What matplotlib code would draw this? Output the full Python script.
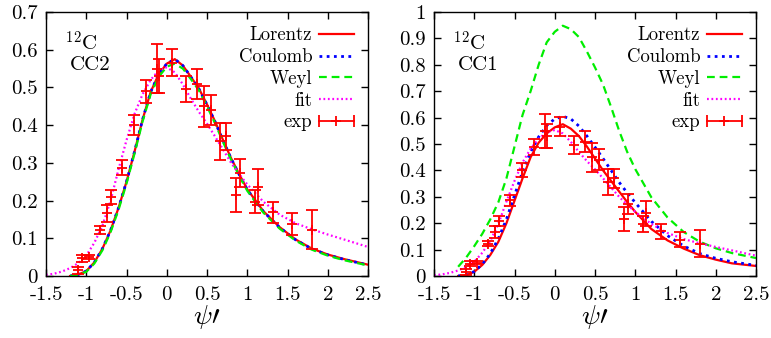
import matplotlib
matplotlib.use("Agg")
import matplotlib.pyplot as plt
from matplotlib.lines import Line2D
from matplotlib.legend_handler import HandlerLine2D, HandlerTuple

plt.rcParams['font.family'] = ['cmr10', 'DejaVu Serif']
plt.rcParams['mathtext.fontset'] = 'cm'
plt.rcParams['axes.unicode_minus'] = False
plt.rcParams['axes.formatter.use_mathtext'] = True

# scaling variable grid for the model curves
psi_model = [-1.2, -1.1, -1.0, -0.9, -0.8, -0.7, -0.6, -0.5, -0.4, -0.3, -0.2, -0.1,
             0.0, 0.1, 0.2, 0.3, 0.4, 0.5, 0.6, 0.7, 0.8, 0.9, 1.0, 1.2, 1.4, 1.6,
             1.8, 2.0, 2.2, 2.5]

# CC2 prescription
lorentz_cc2 = [0.0, 0.004, 0.013, 0.036, 0.072, 0.12, 0.18, 0.25, 0.33, 0.415, 0.488, 0.535,
               0.563, 0.575, 0.558, 0.528, 0.497, 0.455, 0.41, 0.36, 0.312, 0.27, 0.23, 0.172,
               0.13, 0.097, 0.073, 0.057, 0.045, 0.03]
coulomb_cc2 = [0.0, 0.004, 0.013, 0.036, 0.072, 0.12, 0.18, 0.25, 0.33, 0.415, 0.488, 0.535,
               0.563, 0.575, 0.558, 0.528, 0.496, 0.454, 0.409, 0.359, 0.311, 0.269, 0.229, 0.171,
               0.129, 0.096, 0.072, 0.056, 0.044, 0.029]
weyl_cc2 = [0.0, 0.003, 0.011, 0.033, 0.068, 0.115, 0.175, 0.245, 0.325, 0.41, 0.482, 0.528,
            0.555, 0.563, 0.55, 0.522, 0.492, 0.45, 0.405, 0.355, 0.308, 0.266, 0.226, 0.168,
            0.126, 0.094, 0.07, 0.054, 0.042, 0.028]

# CC1 prescription
lorentz_cc1 = [0.0, 0.003, 0.016, 0.042, 0.08, 0.13, 0.2, 0.285, 0.37, 0.45, 0.505, 0.54,
               0.563, 0.575, 0.558, 0.53, 0.49, 0.445, 0.40, 0.36, 0.32, 0.28, 0.243, 0.178,
               0.135, 0.104, 0.079, 0.062, 0.048, 0.038]
coulomb_cc1 = [0.0, 0.004, 0.017, 0.045, 0.085, 0.142, 0.215, 0.305, 0.395, 0.47, 0.527, 0.57,
               0.595, 0.605, 0.595, 0.568, 0.53, 0.488, 0.445, 0.40, 0.355, 0.315, 0.278, 0.207,
               0.153, 0.114, 0.085, 0.067, 0.054, 0.04]
weyl_cc1 = [0.035, 0.07, 0.113, 0.16, 0.215, 0.28, 0.37, 0.49, 0.61, 0.70, 0.80, 0.885,
            0.925, 0.948, 0.935, 0.905, 0.85, 0.79, 0.725, 0.64, 0.55, 0.47, 0.405, 0.298,
            0.222, 0.167, 0.13, 0.105, 0.087, 0.068]

# phenomenological scaling function
psi_fit = [-1.5, -1.4, -1.3, -1.2, -1.1, -1.0, -0.9, -0.8, -0.7, -0.6, -0.5, -0.4, -0.3, -0.2,
           -0.1, 0.0, 0.1, 0.2, 0.3, 0.4, 0.5, 0.6, 0.7, 0.8, 0.9, 1.0, 1.2, 1.4, 1.6, 1.8,
           2.0, 2.2, 2.5]
fit = [0.003, 0.006, 0.012, 0.021, 0.034, 0.054, 0.088, 0.133, 0.198, 0.282, 0.36, 0.43,
       0.482, 0.52, 0.545, 0.553, 0.54, 0.508, 0.47, 0.435, 0.404, 0.37, 0.335, 0.30, 0.27,
       0.243, 0.197, 0.163, 0.14, 0.124, 0.11, 0.097, 0.077]

# experimental scaling data
psi_exp = [-1.10, -1.055, -0.96, -0.83, -0.745, -0.69, -0.56, -0.41, -0.26, -0.12, -0.10,
           0.06, 0.235, 0.37, 0.46, 0.545, 0.66, 0.735, 0.86, 0.915, 1.095, 1.135, 1.32,
           1.55, 1.80]
f_exp = [0.015, 0.047, 0.05, 0.122, 0.166, 0.209, 0.287, 0.401, 0.49, 0.55, 0.53, 0.566,
         0.496, 0.508, 0.45, 0.441, 0.357, 0.37, 0.215, 0.273, 0.197, 0.237, 0.169, 0.138,
         0.123]
f_err = [0.01, 0.01, 0.006, 0.01, 0.022, 0.018, 0.02, 0.027, 0.03, 0.065, 0.045, 0.035,
         0.035, 0.04, 0.055, 0.04, 0.05, 0.035, 0.046, 0.037, 0.03, 0.048, 0.028, 0.03,
         0.052]

xticks = [-1.5, -1.0, -0.5, 0.0, 0.5, 1.0, 1.5, 2.0, 2.5]
xticklabels = ['-1.5', '-1', '-0.5', '0', '0.5', '1', '1.5', '2', '2.5']
yticks_cc2 = [0.0, 0.1, 0.2, 0.3, 0.4, 0.5, 0.6, 0.7]
yticklabels_cc2 = ['0', '0.1', '0.2', '0.3', '0.4', '0.5', '0.6', '0.7']
yticks_cc1 = [0.0, 0.1, 0.2, 0.3, 0.4, 0.5, 0.6, 0.7, 0.8, 0.9, 1.0]
yticklabels_cc1 = ['0', '0.1', '0.2', '0.3', '0.4', '0.5', '0.6', '0.7', '0.8', '0.9', '1']

TICK_FS = 15
LEG_FS = 13.5
RED = '#ff0000'


def panel(ax, lorentz, coulomb, weyl, yticks, yticklabels, tag):
    l1, = ax.plot(psi_model, lorentz, color=RED, lw=1.6)
    l2, = ax.plot(psi_model, coulomb, color='#0000ff', lw=2.0, ls=(0, (1, 1.6)))
    l3, = ax.plot(psi_model, weyl, color='#00ee00', lw=1.6, ls=(0, (3.5, 2.2)))
    l4, = ax.plot(psi_fit, fit, color='#ff00ff', lw=1.6, ls=(0, (0.8, 1.2)))
    ax.errorbar(psi_exp, f_exp, yerr=f_err, fmt='+', color=RED, ms=7, mew=1.3,
                elinewidth=1.3, capsize=4, capthick=1.3)

    ax.set_xlim(-1.5, 2.5)
    ax.set_ylim(yticks[0], yticks[-1])
    ax.set_xticks(xticks)
    ax.set_xticklabels(xticklabels, fontsize=TICK_FS)
    ax.set_yticks(yticks)
    ax.set_yticklabels(yticklabels, fontsize=TICK_FS)
    ax.tick_params(direction='in', length=5, width=1, top=True, right=True)
    ax.tick_params(axis='x', pad=7.5)
    ax.tick_params(axis='y', pad=6)
    for s in ax.spines.values():
        s.set_linewidth(1.0)
    ax.set_xlabel(r'$\psi\prime$', fontsize=20, labelpad=-1)

    ax.text(0.06, 0.885, r'$^{12}$C', transform=ax.transAxes, fontsize=15, va='center')
    ax.text(0.075, 0.80, tag, transform=ax.transAxes, fontsize=15, va='center')

    # errorbar legend key: horizontal bar with end caps and a cross in the middle
    bar = Line2D([], [], color=RED, lw=1.3, marker='+', ms=7, mew=1.3)
    caps = Line2D([], [], color=RED, ls='none', marker='|', ms=9, mew=1.3)
    ax.legend([l1, l2, l3, l4, (bar, caps)], ['Lorentz', 'Coulomb', 'Weyl', 'fit', 'exp'],
              handler_map={caps: HandlerLine2D(numpoints=2, marker_pad=0),
                           tuple: HandlerTuple(ndivide=1, pad=0)},
              loc='upper right', bbox_to_anchor=(0.955, 0.945), frameon=False,
              markerfirst=False, fontsize=LEG_FS, handlelength=1.85, handletextpad=0.35,
              labelspacing=0.2, borderpad=0.0, borderaxespad=0.0)


fig = plt.figure(figsize=(7.71, 3.38), dpi=100)
ax1 = fig.add_axes([46 / 771, 62 / 338, 322 / 771, 264 / 338])
ax2 = fig.add_axes([434 / 771, 62 / 338, 322 / 771, 264 / 338])

panel(ax1, lorentz_cc2, coulomb_cc2, weyl_cc2, yticks_cc2, yticklabels_cc2, 'CC2')
panel(ax2, lorentz_cc1, coulomb_cc1, weyl_cc1, yticks_cc1, yticklabels_cc1, 'CC1')

fig.savefig('out.png', dpi=100)
